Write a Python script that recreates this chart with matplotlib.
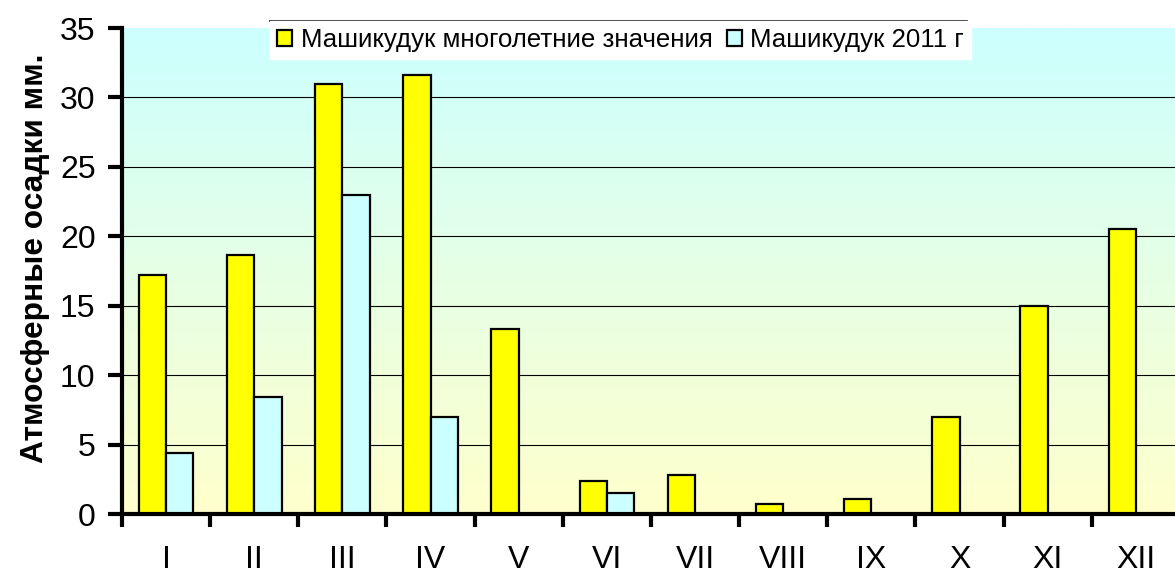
import numpy as np
import matplotlib
matplotlib.use("Agg")
import matplotlib.pyplot as plt
from matplotlib.lines import Line2D
from matplotlib.ticker import FixedLocator, MultipleLocator

plt.rcParams['font.family'] = ['Liberation Sans', 'DejaVu Sans']

months = ["I", "II", "III", "IV", "V", "VI", "VII", "VIII", "IX", "X", "XI", "XII"]
longterm = [17.2, 18.65, 31.0, 31.6, 13.3, 2.4, 2.8, 0.75, 1.1, 7.0, 15.0, 20.55]
y2011 = [4.4, 8.4, 23.0, 7.0, 0, 1.5, 0, 0, 0, 0, 0, 0]
series_names = ["Машикудук многолетние значения", "Машикудук 2011 г"]
ylabel = "Атмосферные осадки мм."

W, H = 1175, 574
fig = plt.figure(figsize=(W / 100, H / 100), dpi=100)
fig.patch.set_facecolor("white")
ax = fig.add_axes([122 / W, (H - 514) / H, (1180 - 122) / W, (514 - 28) / H])

n = len(months)
x = np.arange(n)
ax.set_xlim(-0.5, n - 0.5)
ax.set_ylim(0, 35)

# gradient background: cyan top -> light yellow bottom
top = np.array([204, 255, 255]) / 255
bot = np.array([255, 255, 204]) / 255
t = np.linspace(0, 1, 256)[:, None]
grad = (top * (1 - t) + bot * t)[:, None, :]
ax.imshow(grad, extent=[-0.5, n - 0.5, 0, 35], aspect='auto', zorder=0,
          interpolation='bilinear')
ax.patch.set_visible(False)

# gridlines
for yv in range(5, 35, 5):
    ax.axhline(yv, color="black", lw=0.8, zorder=1)

w = 0.31
b1 = ax.bar(x - w / 2, longterm, width=w, color="#FFFF00", edgecolor="black",
            linewidth=1.6, zorder=3, label=series_names[0])
b2 = ax.bar(x + w / 2, y2011, width=w, color="#CCFFFF", edgecolor="black",
            linewidth=1.6, zorder=3, label=series_names[1])

for s in ["top", "right"]:
    ax.spines[s].set_visible(False)
for s in ["left", "bottom"]:
    ax.spines[s].set_linewidth(3)
    ax.spines[s].set_zorder(5)

ax.yaxis.set_major_locator(MultipleLocator(5))
ax.tick_params(axis="y", which="major", direction="out", length=10, width=3,
               labelsize=23, pad=9)
ax.set_xticks(x)
ax.set_xticklabels(months)
ax.xaxis.set_minor_locator(FixedLocator(np.arange(-0.5, n, 1.0)))
ax.tick_params(axis="x", which="major", length=0, labelsize=23, pad=22)
ax.tick_params(axis="x", which="minor", direction="out", length=9, width=3)

fig.text(43 / W, (H - 258) / H, ylabel, fontsize=22.8, fontweight="bold",
         rotation=90, rotation_mode="anchor", ha="center", va="baseline")

leg = fig.legend(handles=[b1, b2], loc="upper left",
                 bbox_to_anchor=(270 / W, (H - 21) / H), ncol=2,
                 fontsize=18.6, frameon=True, fancybox=False, framealpha=1,
                 edgecolor="white", facecolor="white", borderpad=0.28,
                 handlelength=0.58, handleheight=0.58, handletextpad=0.33,
                 columnspacing=0.55, borderaxespad=0)
fig.add_artist(Line2D([270 / W, 967 / W], [(H - 21) / H, (H - 21) / H],
                      color="black", lw=1.2))

fig.savefig("out.png", dpi=100)
